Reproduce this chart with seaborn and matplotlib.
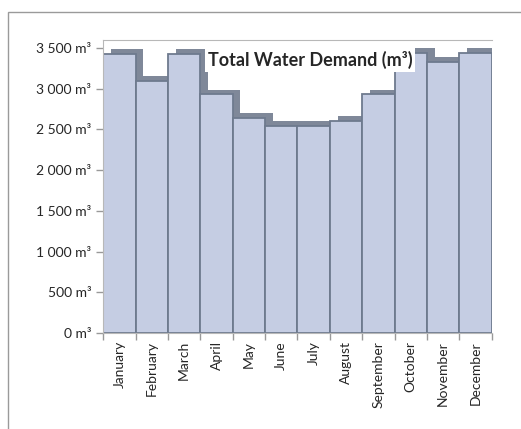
import numpy as np
import pandas as pd
import seaborn as sns
import matplotlib.pyplot as plt
import matplotlib.patheffects as pe
from matplotlib.ticker import FuncFormatter, FixedLocator
from matplotlib.patches import Rectangle

# monthly water demand
months = ['January', 'February', 'March', 'April', 'May', 'June',
          'July', 'August', 'September', 'October', 'November', 'December']
demand = [3430, 3100, 3430, 2930, 2640, 2540, 2540, 2600, 2930, 3440, 3330, 3440]
yticks = [0, 500, 1000, 1500, 2000, 2500, 3000, 3500]

df = pd.DataFrame({'month': months, 'demand': demand})

sns.set_style('white')
plt.rcParams['font.family'] = ['Lato', 'DejaVu Sans']

fig = plt.figure(figsize=(5.21, 4.29), dpi=100)
ax = fig.add_axes([0.198, 0.224, 0.746, 0.683])

sns.barplot(data=df, x='month', y='demand', color='#c5cde3', saturation=1,
            width=1.0, edgecolor='#6e7a8e', linewidth=1.3, ax=ax)

# fake 3d depth: dark side/top face offset up and right
for bar in ax.patches:
    bar.set_path_effects([pe.SimplePatchShadow(offset=(5.5, 3.5), shadow_rgbFace='#7f8899', alpha=1),
                          pe.Normal()])

ax.set_ylim(0, 3600)
ax.set_xlim(-0.5, 11.5)
ax.set_yticks(yticks)
ax.yaxis.set_major_formatter(FuncFormatter(lambda v, p: f"{int(v):,}".replace(',', ' ') + ' m³'))
ax.set_xlabel('')
ax.set_ylabel('')
ax.tick_params(axis='x', rotation=90, length=0, labelsize=10, pad=6)
ax.tick_params(axis='y', length=5, width=1, color='#999999', labelsize=10, left=True)
ax.xaxis.set_minor_locator(FixedLocator(np.arange(-0.5, 12, 1)))
ax.tick_params(axis='x', which='minor', length=5, width=1, color='#999999', bottom=True)

for s in ['left', 'bottom', 'top']:
    ax.spines[s].set_color('#b8b8b8')
ax.spines['right'].set_visible(False)

ax.text(0.532, 0.932, 'Total Water Demand (m³)', transform=ax.transAxes,
        ha='center', va='center', fontsize=13, fontweight='bold',
        bbox=dict(boxstyle='square,pad=0.15', fc='white', ec='none'), zorder=5)

# outer chart frame
fig.add_artist(Rectangle((8 / 521, -0.1), 1.1, 1.1 - 12 / 429,
                         transform=fig.transFigure, fill=False, ec='#9a9a9a', lw=1))

fig.savefig('out.png', dpi=100)
